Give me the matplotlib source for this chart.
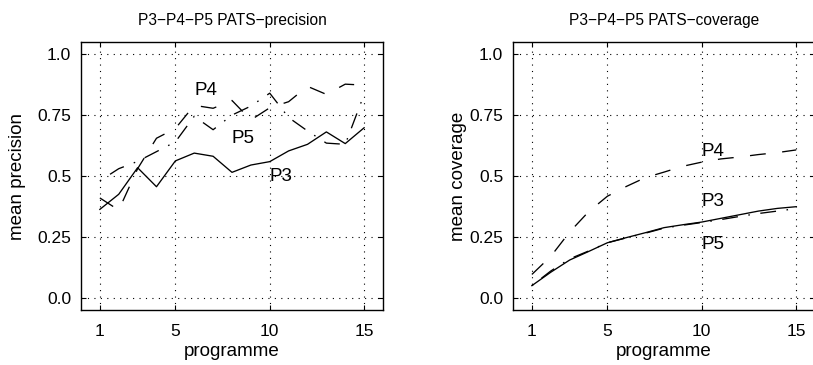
import numpy as np
import matplotlib.pyplot as plt

plt.rcParams['font.family'] = ['Liberation Sans', 'DejaVu Sans']
plt.rcParams['font.size'] = 12.5

prog = np.arange(1, 16)

# mean precision per programme
prec_p3 = [0.363, 0.425, 0.534, 0.456, 0.562, 0.594, 0.581, 0.515, 0.545, 0.559, 0.603, 0.630, 0.681, 0.633, 0.698]
prec_p4 = [0.41, 0.36, 0.53, 0.655, 0.695, 0.79, 0.778, 0.81, 0.73, 0.78, 0.805, 0.868, 0.835, 0.877, 0.873]
prec_p5 = [0.48, 0.53, 0.56, 0.60, 0.64, 0.745, 0.69, 0.75, 0.787, 0.84, 0.74, 0.685, 0.635, 0.63, 0.835]

# mean coverage per programme
cov_p3 = [0.05, 0.105, 0.155, 0.19, 0.226, 0.247, 0.267, 0.288, 0.300, 0.311, 0.326, 0.341, 0.356, 0.367, 0.374]
cov_p4 = [0.096, 0.17, 0.27, 0.353, 0.417, 0.457, 0.493, 0.516, 0.54, 0.557, 0.57, 0.578, 0.588, 0.596, 0.607]
cov_p5 = [0.05, 0.11, 0.16, 0.192, 0.226, 0.246, 0.265, 0.286, 0.298, 0.309, 0.321, 0.334, 0.346, 0.356, 0.366]

yticks = [0.0, 0.25, 0.5, 0.75, 1.0]
ytick_labels = ['0.0', '0.25', '0.5', '0.75', '1.0']
xticks = [1, 5, 10, 15]

fig = plt.figure(figsize=(8.13, 3.65), dpi=100)
ax1 = fig.add_axes([0.0996, 0.1507, 0.3715, 0.7342])
ax2 = fig.add_axes([0.631, 0.1507, 0.3715, 0.7342])

lw = 0.95
dash = (0, (12, 12.5))
dashdot = (0, (1.2, 8, 12, 8))


def style(ax, title, ylabel, ylab_x):
    ax.set_xlim(0, 16)
    ax.set_ylim(-0.05, 1.05)
    ax.set_xticks(xticks)
    ax.set_yticks(yticks)
    ax.set_yticklabels(ytick_labels)
    ax.grid(True, color='black', linestyle=(0, (1, 4.8)), linewidth=0.8)
    ax.tick_params(direction='in', length=3.5, width=0.8, top=True, right=True)
    ax.tick_params(axis='x', pad=10)
    ax.tick_params(axis='y', pad=7)
    for s in ax.spines.values():
        s.set_linewidth(1.0)
    ax.set_title(title, fontsize=11.2, pad=12)
    ax.set_xlabel('programme', fontsize=13.5, labelpad=3)
    ax.set_ylabel(ylabel, fontsize=13.5)
    ax.yaxis.set_label_coords(ylab_x, 0.5)


ax1.plot(prog, prec_p3, color='black', lw=lw)
ax1.plot(prog, prec_p4, color='black', lw=lw, linestyle=dash)
ax1.plot(prog, prec_p5, color='black', lw=lw, linestyle=dashdot)
ax1.text(6, 0.85, 'P4', va='center', ha='left', fontsize=13.5)
ax1.text(8, 0.652, 'P5', va='center', ha='left', fontsize=13.5)
ax1.text(10, 0.497, 'P3', va='center', ha='left', fontsize=13.5)
style(ax1, 'P3\u2212P4\u2212P5 PATS\u2212precision', 'mean precision', -0.182)

ax2.plot(prog, cov_p3, color='black', lw=lw)
ax2.plot(prog, cov_p4, color='black', lw=lw, linestyle=dash)
ax2.plot(prog, cov_p5, color='black', lw=lw, linestyle=dashdot)
ax2.text(10, 0.60, 'P4', va='center', ha='left', fontsize=13.5)
ax2.text(10, 0.397, 'P3', va='center', ha='left', fontsize=13.5)
ax2.text(10, 0.218, 'P5', va='center', ha='left', fontsize=13.5)
style(ax2, 'P3\u2212P4\u2212P5 PATS\u2212coverage', 'mean coverage', -0.152)

fig.savefig('out.png', dpi=100)
